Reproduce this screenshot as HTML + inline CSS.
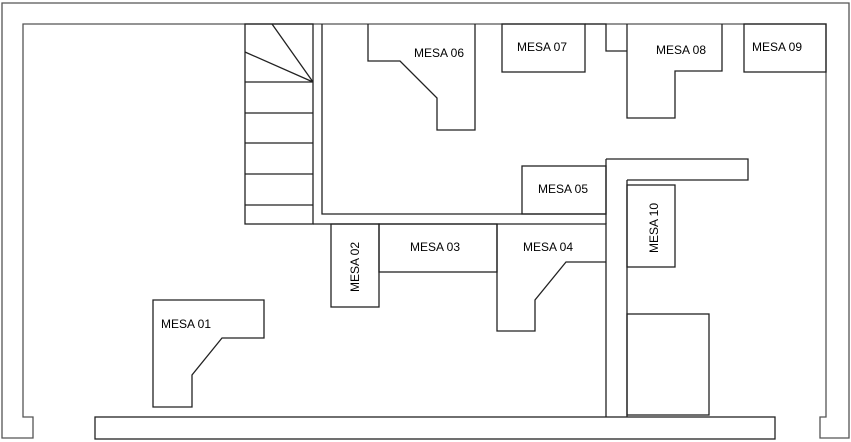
<!DOCTYPE html>
<html><head><style>body{margin:0;background:#fff}svg{display:block}text{font-family:"Liberation Sans",sans-serif;font-size:12px;fill:#000;stroke:none}</style></head>
<body>
<svg width="851" height="442" viewBox="0 0 851 442" xmlns="http://www.w3.org/2000/svg" fill="none" stroke="#222" stroke-width="1.3">
<path d="M33,438 V417 H23 V24 H826 V417 H820 V438 H849 V3 H2 V438 Z" stroke="#555"/>
<rect x="95" y="417" width="680" height="22"/>
<rect x="245" y="24" width="68" height="200"/>
<path d="M245,82H313M245,113H313M245,143H313M245,174H313M245,205H313M313,82L272,24M313,82L245,52"/>
<path d="M322,24 V214 H606"/>
<path d="M313,224 H606 V417"/>
<path d="M606,159 H748 V180 H627 M606,159 V224 M627,180 V417"/>
<path d="M368,24 V61 H400 L437,98 V130 H475 V24"/>
<text x="414" y="57">MESA 06</text>
<rect x="502" y="24" width="83" height="48"/><text x="517" y="51">MESA 07</text>
<path d="M585,24 H606 V51 H627"/>
<path d="M627,24 V118 H675 V71 H722 V24"/><text x="656" y="54">MESA 08</text>
<rect x="744" y="24" width="82" height="48"/><text x="752" y="51">MESA 09</text>
<rect x="522" y="166" width="84" height="48"/><text x="538" y="193">MESA 05</text>
<rect x="627" y="185" width="48" height="82"/><text transform="translate(658,253) rotate(-90)">MESA 10</text>
<rect x="627" y="314" width="82" height="101"/>
<rect x="331" y="224" width="48" height="83"/><text transform="translate(359,292) rotate(-90)">MESA 02</text>
<rect x="379" y="224" width="118" height="48"/><text x="410" y="251">MESA 03</text>
<path d="M497,224 V331 H535 V300 L566,262 H606"/><text x="523" y="251">MESA 04</text>
<path d="M153,300 V407 H192 V375 L222,338 H264 V300 Z"/><text x="161" y="328">MESA 01</text>
</svg>
</body></html>
